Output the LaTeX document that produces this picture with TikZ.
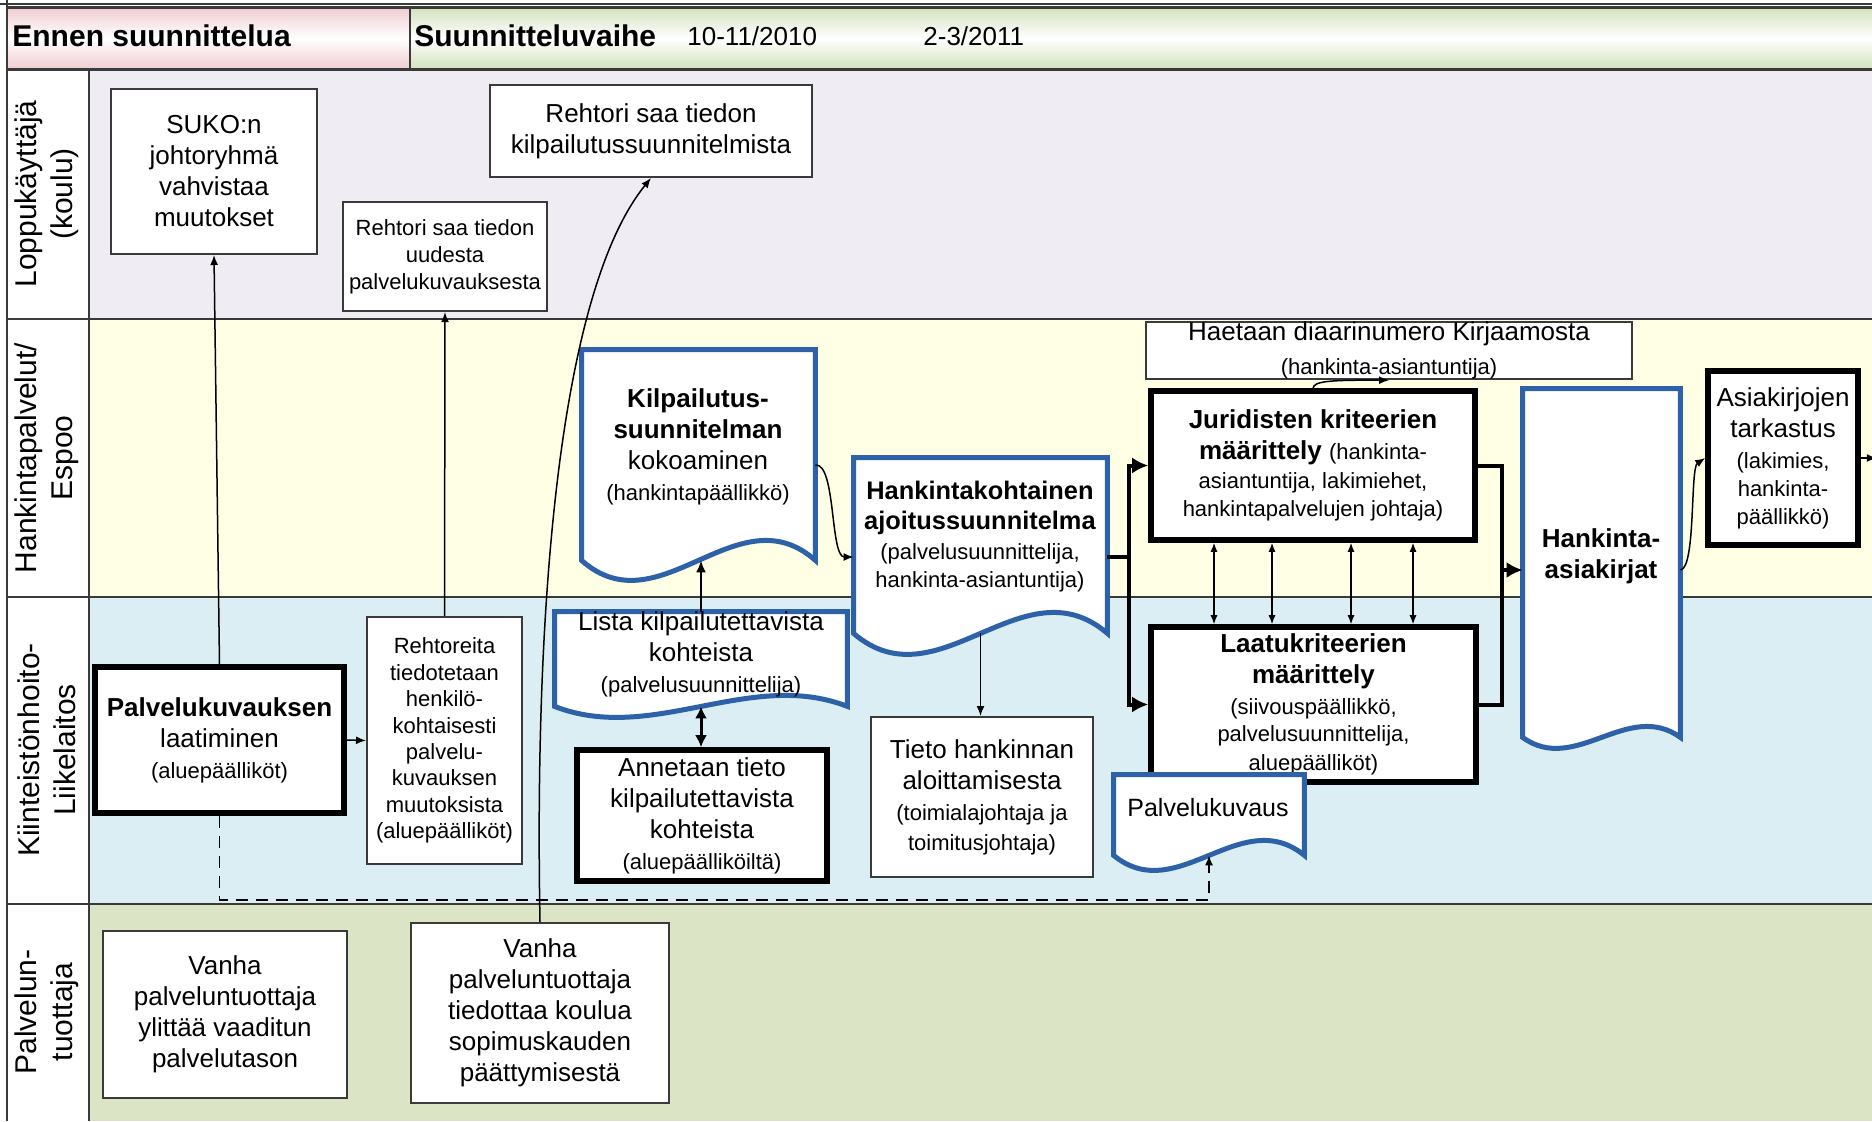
\documentclass[tikz,border=0pt]{standalone}
\usepackage{fontspec}
\setmainfont{Liberation Sans}
\usetikzlibrary{arrows.meta,calc}
\definecolor{laneA}{HTML}{EFEDF3}
\definecolor{laneB}{HTML}{FFFFE5}
\definecolor{laneC}{HTML}{DAEEF4}
\definecolor{laneD}{HTML}{DBE5C6}
\definecolor{pinkH}{HTML}{F0CDD1}
\definecolor{greenH}{HTML}{D3E2BD}
\definecolor{docblue}{HTML}{2E62A8}
\definecolor{edgec}{HTML}{3A3A3A}
\newcommand\bigf{\fontsize{13}{15.5}\selectfont}
\newcommand\smf{\fontsize{11}{14}\selectfont}
\newcommand\docoutline[2]{%
  \draw[docline] (#1.south west) -- (#1.north west) -- (#1.north east) -- (#1.south east)
    .. controls ($(#1.south east)!1/3!(#1.south west)+(0,-3.46*#2)$) and ($(#1.south east)!2/3!(#1.south west)+(0,3.46*#2)$) .. (#1.south west) -- cycle;}
\begin{document}
\begin{tikzpicture}[x=0.5pt,y=-0.5pt,
  wh/.style 2 args={minimum width=#1*0.5pt,minimum height=#2*0.5pt},
  thinbox/.style={draw=edgec,line width=1pt,fill=white,inner sep=0pt,align=center,font=\bigf},
  thickbox/.style={draw=black,line width=2.8pt,fill=white,inner sep=0pt,align=center,font=\bigf},
  docnode/.style={inner sep=0pt},
  doctext/.style={inner sep=0pt,align=center,font=\bigf},
  docline/.style={draw=docblue,line width=2.5pt,fill=white},
  lanelab/.style={rotate=90,align=center,inner sep=0pt,font=\fontsize{15}{18}\selectfont},
  hdrb/.style={anchor=west,inner sep=0pt,font=\bfseries\fontsize{15}{18}\selectfont},
  hdr/.style={anchor=west,inner sep=0pt,font=\bigf},
  arr/.style={draw=black,line width=0.75pt,-{Latex[length=5pt,width=4pt]}},
  arrb/.style={draw=black,line width=1pt,-{Latex[length=6pt,width=5pt]}},
  dbl/.style={draw=black,line width=1.5pt,{Latex[length=6pt,width=6pt]}-{Latex[length=6pt,width=6pt]}},
  dblthin/.style={draw=black,line width=0.6pt,{Latex[length=4.5pt,width=3.5pt]}-{Latex[length=4.5pt,width=3.5pt]}},
  bus/.style={draw=black,line width=2pt},
  busarr/.style={draw=black,line width=2pt,-{Latex[length=8pt,width=8pt]}},
  dsh/.style={draw=black,line width=0.75pt,dash pattern=on 6pt off 4pt,-{Latex[length=5pt,width=4pt]}},
  sepline/.style={draw=edgec,line width=1pt}
]
\useasboundingbox (0,0) rectangle (1872,1121);
% backgrounds
\fill[white] (0,0) rectangle (1872,1121);
\fill[laneA] (89,69) rectangle (1872,319);
\fill[laneB] (89,319) rectangle (1872,597);
\fill[laneC] (89,597) rectangle (1872,904);
\fill[laneD] (89,904) rectangle (1872,1121);
\shade[top color=pinkH,bottom color=pinkH,middle color=white] (7,7.5) rectangle (410,69);
\shade[top color=greenH,bottom color=greenH,middle color=white] (410,7.5) rectangle (1872,69);
% frame lines
\draw[edgec,line width=0.8pt] (0,4) -- (1872,4);
\draw[edgec,line width=1.5pt] (7,7.5) -- (1872,7.5);
\draw[edgec,line width=1.5pt] (7,69) -- (1872,69);
\draw[sepline] (410,7.5) -- (410,69);
\draw[sepline] (7,0) -- (7,1121);
\draw[sepline] (89,69) -- (89,1121);
\draw[sepline] (7,319) -- (1872,319);
\draw[sepline] (7,597) -- (1872,597);
\draw[sepline] (7,904) -- (1872,904);
% header texts
\node[hdrb] (h1) at (12,36) {Ennen suunnittelua};
\node[hdrb] (h2) at (414,36) {Suunnitteluvaihe};
\node[hdr] (h3) at (687,36) {10-11/2010};
\node[hdr] (h4) at (923,36) {2-3/2011};
% lane labels
\node[lanelab] (l1) at (47,194) {Loppukäyttäjä\\(koulu)};
\node[lanelab] (l2) at (47,458) {Hankintapalvelut/\\Espoo};
\node[lanelab] (l3) at (47,750) {Kiinteistönhoito-\\Liikelaitos};
\node[lanelab] (l4) at (47,1012) {Palvelun-\\tuottaja};
% boxes
\node[thinbox,wh={206}{165}] (suko) at (214,171.5) {SUKO:n\\johtoryhmä\\vahvistaa\\muutokset};
\node[thinbox,wh={322}{92}] (rks) at (651,131) {Rehtori saa tiedon\\kilpailutussuunnitelmista};
\node[thinbox,wh={204}{109},font=\fontsize{11}{13.5}\selectfont] (rpu) at (445,256.5) {Rehtori saa tiedon\\uudesta\\palvelukuvauksesta};
\node[thinbox,wh={486}{51}] (haet) at (1389,350.5) {Haetaan diaarinumero Kirjaamosta\\[1.5pt]{\smf (hankinta-asiantuntija)}};
\node[thickbox,wh={324}{149}] (jur) at (1313,465.5) {\textbf{Juridisten kriteerien}\\\textbf{määrittely} {\smf(hankinta-}\\[-1pt]{\smf asiantuntija, lakimiehet,}\\[-1.5pt]{\smf hankintapalvelujen johtaja)}};
\node[thickbox,wh={150}{174}] (ak) at (1783,458) {Asiakirjojen\\tarkastus\\{\smf(lakimies,}\\[-1.5pt]{\smf hankinta-}\\[-1.5pt]{\smf päällikkö)}};
\node[thickbox,wh={249}{146}] (pk) at (219.5,740) {\textbf{Palvelukuvauksen}\\laatiminen\\{\smf(aluepäälliköt)}};
\node[thinbox,wh={155}{247},font=\fontsize{11}{13.2}\selectfont] (rto) at (444.5,740.5) {Rehtoreita\\tiedotetaan\\henkilö-\\kohtaisesti\\palvelu-\\kuvauksen\\muutoksista\\(aluepäälliköt)};
\node[thickbox,wh={250}{131}] (ann) at (702,815.5) {Annetaan tieto\\kilpailutettavista\\kohteista\\{\smf(aluepäälliköiltä)}};
\node[thinbox,wh={222}{160}] (tieto) at (982,797) {Tieto hankinnan\\aloittamisesta\\{\smf(toimialajohtaja ja}\\[-0.5pt]{\smf toimitusjohtaja)}};
\node[thickbox,wh={325}{155}] (laatu) at (1313.5,704.5) {\textbf{Laatukriteerien}\\\textbf{määrittely}\\{\smf(siivouspäällikkö,}\\[-2pt]{\smf palvelusuunnittelija,}\\[-1pt]{\smf aluepäälliköt)}};
\node[thinbox,wh={244}{167}] (vy) at (225,1014.5) {Vanha\\palveluntuottaja\\ylittää vaaditun\\palvelutason};
\node[thinbox,wh={258}{180}] (vt) at (540,1013) {Vanha\\palveluntuottaja\\tiedottaa koulua\\sopimuskauden\\päättymisestä};
% documents
\node[docnode,wh={233}{210}] (kil) at (698.5,455) {};
\docoutline{kil}{20}
\node[doctext] (kilT) at (698,447) {\textbf{Kilpailutus-}\\\textbf{suunnitelman}\\kokoaminen\\{\smf(hankintapäällikkö)}};
\node[docnode,wh={253}{175}] (hk) at (980.5,545.5) {};
\docoutline{hk}{21}
\node[doctext,font=\fontsize{12.7}{15}\selectfont] (hkT) at (980,537) {\textbf{Hankintakohtainen}\\\textbf{ajoitussuunnitelma}\\{\smf(palvelusuunnittelija,}\\[-1pt]{\smf hankinta-asiantuntija)}};
\node[docnode,wh={292}{94}] (lista) at (701,659) {};
\docoutline{lista}{11}
\node[doctext] (listaT) at (701,654) {Lista kilpailutettavista\\kohteista\\{\smf(palvelusuunnittelija)}};
\node[docnode,wh={157}{348}] (ha) at (1601.5,563) {};
\docoutline{ha}{11}
\node[doctext] (haT) at (1601,556) {\textbf{Hankinta-}\\\textbf{asiakirjat}};
\node[docnode,wh={190}{80}] (pkd) at (1209,815) {};
\docoutline{pkd}{15}
\node[doctext,font=\fontsize{12.5}{15}\selectfont] (pkdT) at (1208,808) {Palvelukuvaus};
% connectors
\draw[arr] (pk.north) -- (suko.south);
\draw[arr] (rto.north) -- (rpu.south);
\draw[arr] (pk.east) -- (rto.west);
\draw[arr] (vt.north) .. controls (534,600) and (560,290) .. (rks.south);
\draw[arr] ($(kil.east)+(0,10)$) .. controls (836,463) and (830,557) .. ($(hk.west)+(0,11.5)$);
\draw[arrb] (lista.north) -- (lista.north |- kil.south);
\draw[dbl] (lista.south) -- (lista.south |- ann.north);
\draw[arr] (hk.south) -- (hk.south |- tieto.north);
\coordinate (b1) at (1129,557);
\draw[bus] (hk.east |- b1) -- (b1);
\draw[busarr] (b1) |- (jur.west);
\draw[busarr] (b1) |- (laatu.west);
\coordinate (b2) at (1502,570);
\draw[bus] (jur.east) -| (b2);
\draw[bus] (laatu.east) -| (b2);
\draw[busarr] (b2) -- (b2 -| ha.west);
\foreach \xx in {1214,1272,1351,1413} {
  \coordinate (cx) at (\xx,0);
  \draw[dblthin] (jur.south -| cx) -- (laatu.north -| cx);
}
\draw[arr] (jur.north) .. controls (1314,381) and (1330,380) .. (haet.south);
\draw[arr] ($(ha.east)+(0,7)$) .. controls (1696,568) and (1690,468) .. (ak.west);
\draw[arr] (ak.east) -- ++(16,0);
\draw[dsh] (pk.south) -- ++(0,84) -| (pkd.south);
\end{tikzpicture}
\end{document}
